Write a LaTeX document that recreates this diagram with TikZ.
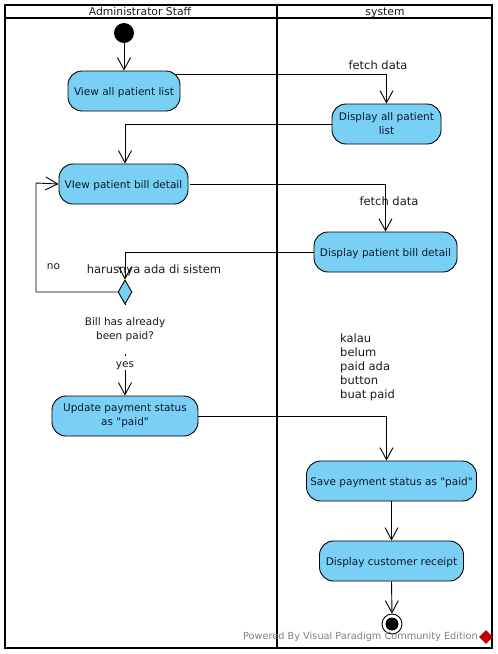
\documentclass[tikz,border=0pt]{standalone}
\usepackage{fontspec}
\setmainfont{DejaVu Sans}[Ligatures=TeXOff]
\usetikzlibrary{arrows.meta,shapes.geometric}
\definecolor{actfill}{HTML}{7ACFF5}
\definecolor{acttext}{HTML}{0A1A30}
\definecolor{mark}{HTML}{808080}
\tikzset{
  x=1pt,y=-1pt,
  act/.style={draw=black,fill=actfill,rounded corners=14pt,line width=0.9pt,text=acttext,font=\fontsize{10.5}{14}\selectfont,align=center,inner sep=0pt,minimum height=40pt,execute at begin node={\rule{0pt}{11pt}}},
  flow/.style={line width=0.9pt,-{Straight Barb[length=12pt,width=13pt,line width=0.9pt]}},
  lane/.style={draw=black,line width=2pt},
  lanehead/.style={font=\fontsize{10.8}{12}\selectfont,text=black!90,inner sep=0pt,anchor=base},
  guard/.style={font=\fontsize{10.5}{14}\selectfont,text=black!90,inner sep=0pt,align=center},
  note/.style={font=\fontsize{11.5}{14}\selectfont,text=black!90,inner sep=0pt},
}
\begin{document}
\begin{tikzpicture}
\useasboundingbox (0,0) rectangle (498,654);
\fill[white] (0,0) rectangle (498,654);
% lanes
\draw[lane] (4.5,5) rectangle (492,648);
\draw[lane] (4.5,18) -- (492,18);
\draw[lane] (277,5) -- (277,648);
\node[lanehead] (h1) at (140,15) {Administrator Staff};
\node[lanehead] (h2) at (385,15) {system};
% nodes
\node[circle,fill=black,minimum size=20pt,inner sep=0pt] (start) at (124,33) {};
\node[act,minimum width=112pt] (va) at (124,91) {View all patient list};
\node[act,minimum width=129pt] (vb) at (123.5,184) {VIew patient bill detail};
\node[act,minimum width=109pt] (da) at (386.5,124) {Display all patient\\list};
\node[act,minimum width=143pt] (db) at (385.5,252) {Display patient bill detail};
\node[diamond,draw=black,fill=actfill,line width=0.9pt,inner sep=0pt,minimum width=14pt,minimum height=24pt,shape aspect=0.58] (dec) at (125,292) {};
\node[act,minimum width=146pt] (up) at (125,416) {Update payment status\\as "paid"};
\node[act,minimum width=170pt] (sv) at (391.5,481) {Save payment status as "paid"};
\node[act,minimum width=144pt] (rc) at (391.5,561) {Display customer receipt};
\node[circle,draw=black,fill=white,line width=0.9pt,minimum size=20pt,inner sep=0pt] (end) at (392,624) {};
\node[circle,fill=black,minimum size=13pt,inner sep=0pt] (endin) at (392,624) {};
\coordinate (nocorner) at (36,183);
% connectors
\draw[flow] (start) -- (va);
\draw[flow] ([shift={(-5pt,17pt)}]va.east) -| (da.north);
\draw[flow] (da.west) -| ([xshift=1.5pt]vb.north);
\draw[flow,shorten <=2pt] (vb.east) -| (db.north);
\draw[flow] (db.west) -| (dec.north);
\draw[flow] (dec.west) -| (nocorner) -- (vb.west);
\draw[flow] (dec.south) -- (up.north);
\draw[flow] (up.east) -| ([xshift=-5pt]sv.north);
\draw[flow] (sv.south) -- (rc.north);
\draw[flow] (rc.south) -- (end.north);
% labels
\node[guard,fill=white,minimum width=86pt,minimum height=49pt] (q) at (125,329.5) {Bill has already\\been paid?};
\node[guard,fill=white,minimum width=20pt,minimum height=14pt,text depth=0pt,text height=8pt] (yes) at (125,363) {yes};
\node[guard] (no) at (53.5,266.5) {no};
\node[note] (ha) at (154,270) {harusnya ada di sistem};
\node[note] (f1) at (378,65) {fetch data};
\node[note] (f2) at (389,201) {fetch data};
\node[note,align=left,anchor=north west] (ka) at (340,334) {kalau\\belum\\paid ada\\button\\buat paid};
\node[font=\fontsize{9.75}{12}\selectfont,text=mark,inner sep=0pt,anchor=east] (wm) at (478,637) {Powered By Visual Paradigm Community Edition};
\node[diamond,fill=red!75!black,minimum size=14pt,inner sep=0pt] (logo) at (486,637) {};
\end{tikzpicture}
\end{document}
